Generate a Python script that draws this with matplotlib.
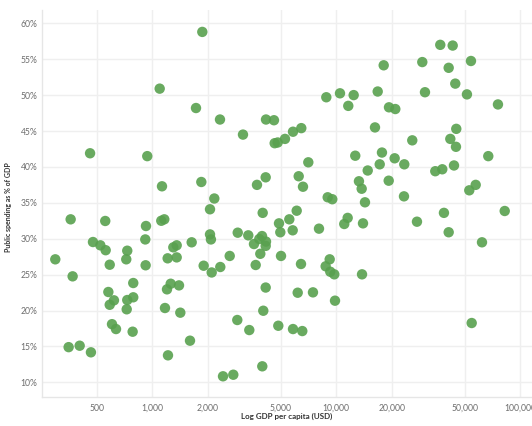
import matplotlib
matplotlib.use("Agg")
import matplotlib.pyplot as plt
from matplotlib.ticker import FixedLocator, FuncFormatter, NullLocator

plt.rcParams['font.family'] = ['Lato', 'DejaVu Sans']

gdp_per_capita = [
    1870, 1097, 1728, 2333, 4150, 3111, 459, 939, 1129, 1847, 2173, 2059, 3707, 4133, 3981, 360,
    36740, 42920, 18100, 29340, 40820, 53950, 44330, 51300, 30340, 16790, 8826, 10475, 12430, 11620,
    19340, 20930, 75630, 4585, 16230, 44890, 5818, 6454, 5263, 4626, 4803, 41660, 25880, 44720,
    67000, 12680, 17710, 20760, 23420, 17220, 7046, 43630, 34520, 37670, 6248, 6592, 14820, 13280,
    13740, 19270, 23330, 14320, 8980, 9510, 52830, 57240, 38470, 82300, 6093,
    297, 369, 351, 403, 464, 476, 522, 558, 555, 587, 577, 619, 587, 604, 635, 731, 722, 788, 731,
    788, 726, 782, 924, 916, 920, 1119, 1162, 1301, 1357, 1212, 1357, 1637, 1259, 1202, 1397, 1172,
    1420, 1217, 1603, 1902, 2103, 2059, 2083, 2342, 2635, 2913, 3324, 3570, 3815, 3948, 4150, 4133,
    3864, 3647, 4133, 4011, 2897, 3367, 3961, 2423, 2756,
    4883, 5555, 4963, 5795, 8054, 11050, 11530, 13970, 27450, 40820, 61930, 5007, 6430, 9207, 8755,
    9276, 9753, 13800, 6170, 7469, 9841, 4840, 5818, 6535, 54440,
]
public_spending_pct = [
    58.8, 50.9, 48.2, 46.6, 46.6, 44.5, 41.9, 41.5, 37.3, 37.9, 35.6, 34.1, 37.5, 38.55, 33.6, 32.7,
    57.0, 56.9, 54.15, 54.6, 53.8, 54.75, 51.6, 50.1, 50.4, 50.5, 49.7, 50.25, 50.0, 48.5,
    48.3, 48.06, 48.7, 46.5, 45.5, 45.3, 44.9, 45.4, 43.9, 43.3, 43.4, 43.9, 43.7, 42.8,
    41.5, 41.56, 42.0, 41.2, 40.36, 40.36, 40.64, 40.2, 39.4, 39.67, 38.7, 37.24, 39.5, 38.0,
    36.96, 38.08, 35.9, 35.07, 35.77, 35.5, 36.74, 37.5, 33.6, 33.86, 33.9,
    27.13, 24.76, 14.9, 15.1, 14.18, 29.54, 29.08, 28.4, 32.47, 26.38, 22.58, 21.42, 20.8, 18.1, 17.42,
    28.33, 27.13, 23.83, 21.46, 21.84, 20.17, 17.05, 31.77, 29.9, 26.3, 32.5, 32.7, 28.8, 29.08,
    27.27, 27.4, 29.5, 23.73, 22.95, 23.5, 20.35, 19.7, 13.76, 15.8, 26.24, 25.3, 30.6, 29.9,
    26.06, 27.6, 30.84, 30.47, 29.26, 29.96, 30.37, 29.6, 29.0, 27.9, 26.34, 23.2, 19.97, 18.68,
    17.28, 12.23, 10.84, 11.06,
    32.14, 32.7, 30.9, 31.17, 31.4, 32.05, 32.9, 32.14, 32.37, 30.9, 29.5, 27.6, 26.48, 27.13,
    26.16, 25.4, 25.04, 25.04, 22.48, 22.53, 21.37, 17.88, 17.42, 17.14, 18.26,
]

x_ticks = [500, 1000, 2000, 5000, 10000, 20000, 50000, 100000]
y_ticks = [10, 15, 20, 25, 30, 35, 40, 45, 50, 55, 60]

fig = plt.figure(figsize=(5.32, 4.26), dpi=100)
ax = fig.add_axes([0.0784, 0.0688, 0.9216, 0.9077])

ax.scatter(gdp_per_capita, public_spending_pct, s=56, color='#59A14F', alpha=0.9,
           edgecolors='none', zorder=3)

ax.set_xscale('log')
ax.set_xlim(250.6, 115800)
ax.set_ylim(8.0, 61.85)

ax.xaxis.set_major_locator(FixedLocator(x_ticks))
ax.xaxis.set_minor_locator(NullLocator())
ax.xaxis.set_major_formatter(FuncFormatter(lambda v, p: f"{int(round(v)):,}"))
ax.yaxis.set_major_locator(FixedLocator(y_ticks))
ax.yaxis.set_major_formatter(FuncFormatter(lambda v, p: f"{int(round(v))}%"))

ax.grid(True, color='#efefef', linewidth=1.0, zorder=0)
for s in ['top', 'right']:
    ax.spines[s].set_visible(False)
for s in ['left', 'bottom']:
    ax.spines[s].set_color('#e6e6e6')
    ax.spines[s].set_linewidth(1.0)

ax.tick_params(axis='both', length=0, labelsize=6.2, labelcolor='#6e6e6e')
ax.tick_params(axis='y', pad=3)
ax.tick_params(axis='x', pad=5)

fig.text(0.0155, 0.514, 'Public spending as % of GDP', rotation=90, ha='center', va='center',
         fontsize=5.0, fontweight='bold', color='#333333')
fig.text(0.539, 0.014, 'Log GDP per capita (USD)', ha='center', va='bottom',
         fontsize=5.8, fontweight='bold', color='#333333')

fig.savefig('out.png', dpi=100, facecolor='white')
